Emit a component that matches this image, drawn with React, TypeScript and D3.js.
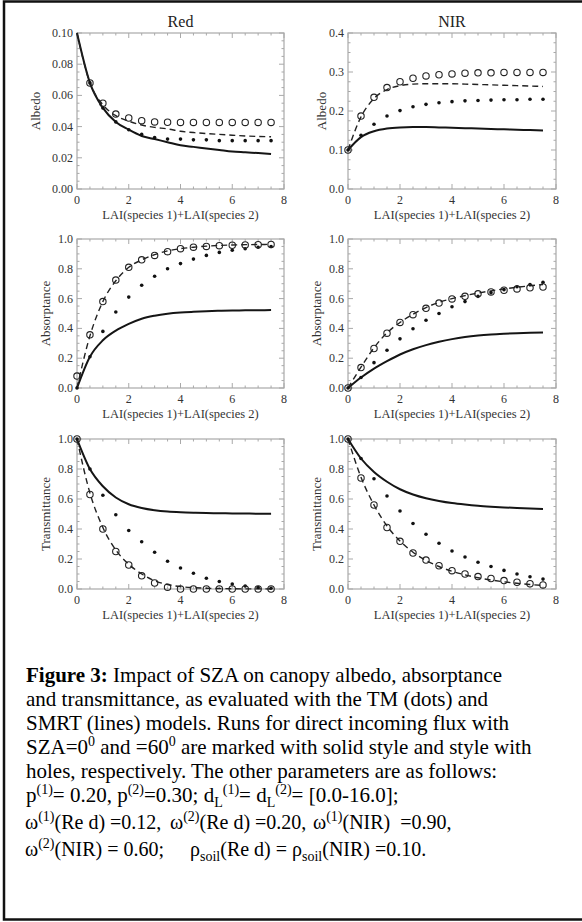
import React, { useEffect, useRef } from "react";
import * as d3 from "d3";

const width = 582;
const height = 922;
const serif = "'Liberation Serif', 'Times New Roman', serif";

// LAI(species 1)+LAI(species 2) at which every run was evaluated
const lai = [0, 0.5, 1, 1.5, 2, 2.5, 3, 3.5, 4, 4.5, 5, 5.5, 6, 6.5, 7, 7.5];

// solid = SMRT SZA=0, dashed = SMRT SZA=60, dots = TM SZA=0, circles = TM SZA=60
const redAlbedoSolid = [0.1, 0.068, 0.052, 0.043, 0.038, 0.034, 0.032, 0.03, 0.028, 0.027, 0.026, 0.025, 0.024, 0.0235, 0.023, 0.0225];
const redAlbedoDashed = [0.1, 0.068, 0.054, 0.047, 0.0435, 0.041, 0.0395, 0.0385, 0.037, 0.0362, 0.0355, 0.035, 0.0345, 0.034, 0.0337, 0.0335];
const redAlbedoDots = [null, 0.068, 0.052, 0.043, 0.038, 0.035, 0.033, 0.032, 0.032, 0.0315, 0.0315, 0.031, 0.031, 0.031, 0.031, 0.031];
const redAlbedoCircles = [null, 0.068, 0.055, 0.048, 0.0455, 0.0438, 0.043, 0.0428, 0.0427, 0.0427, 0.0427, 0.0427, 0.0427, 0.0427, 0.0427, 0.0427];

const nirAlbedoSolid = [0.1, 0.133, 0.148, 0.155, 0.158, 0.159, 0.159, 0.158, 0.157, 0.156, 0.155, 0.154, 0.153, 0.152, 0.151, 0.15];
const nirAlbedoDashed = [0.1, 0.185, 0.232, 0.255, 0.265, 0.269, 0.27, 0.27, 0.27, 0.269, 0.268, 0.267, 0.266, 0.265, 0.264, 0.263];
const nirAlbedoDots = [0.1, 0.138, 0.166, 0.187, 0.201, 0.211, 0.217, 0.221, 0.224, 0.226, 0.227, 0.228, 0.229, 0.229, 0.23, 0.23];
const nirAlbedoCircles = [0.1, 0.187, 0.235, 0.26, 0.275, 0.284, 0.29, 0.293, 0.295, 0.297, 0.298, 0.298, 0.299, 0.299, 0.299, 0.299];

const redAbsSolid = [0, 0.21, 0.32, 0.385, 0.43, 0.465, 0.485, 0.498, 0.506, 0.511, 0.515, 0.518, 0.52, 0.521, 0.522, 0.523];
const redAbsDashed = [0, 0.35, 0.58, 0.72, 0.81, 0.86, 0.895, 0.92, 0.935, 0.945, 0.952, 0.957, 0.96, 0.962, 0.963, 0.964];
const redAbsDots = [0, 0.21, 0.38, 0.51, 0.61, 0.69, 0.75, 0.8, 0.835, 0.865, 0.89, 0.91, 0.925, 0.935, 0.945, 0.95];
const redAbsCircles = [0.08, 0.357, 0.58, 0.724, 0.81, 0.86, 0.89, 0.915, 0.935, 0.945, 0.95, 0.955, 0.958, 0.96, 0.962, 0.963];

const nirAbsSolid = [0, 0.07, 0.13, 0.18, 0.225, 0.26, 0.288, 0.31, 0.328, 0.342, 0.352, 0.359, 0.364, 0.368, 0.371, 0.373];
const nirAbsDashed = [0, 0.14, 0.27, 0.37, 0.44, 0.495, 0.54, 0.575, 0.6, 0.62, 0.637, 0.652, 0.665, 0.676, 0.686, 0.695];
const nirAbsDots = [0, 0.07, 0.17, 0.253, 0.33, 0.398, 0.455, 0.5, 0.545, 0.58, 0.615, 0.64, 0.66, 0.68, 0.695, 0.71];
const nirAbsCircles = [0, 0.137, 0.265, 0.368, 0.44, 0.492, 0.535, 0.57, 0.598, 0.615, 0.632, 0.645, 0.656, 0.665, 0.672, 0.678];

const redTransSolid = [1.0, 0.8, 0.685, 0.61, 0.565, 0.54, 0.525, 0.516, 0.511, 0.508, 0.506, 0.505, 0.504, 0.503, 0.502, 0.502];
const redTransDashed = [1.0, 0.64, 0.41, 0.26, 0.165, 0.1, 0.055, 0.03, 0.016, 0.009, 0.005, 0.003, 0.002, 0.001, 0.001, 0.0];
const redTransDots = [1.0, 0.8, 0.625, 0.495, 0.39, 0.315, 0.245, 0.185, 0.14, 0.105, 0.072, 0.05, 0.033, 0.02, 0.01, 0.005];
const redTransCircles = [1.0, 0.63, 0.4, 0.25, 0.16, 0.088, 0.04, 0.012, 0.0, 0.0, 0.0, 0.0, 0.0, 0.0, 0.0, 0.0];

const nirTransSolid = [1.0, 0.87, 0.78, 0.715, 0.665, 0.63, 0.605, 0.587, 0.573, 0.563, 0.555, 0.549, 0.544, 0.54, 0.537, 0.534];
const nirTransDashed = [1.0, 0.745, 0.56, 0.42, 0.32, 0.245, 0.19, 0.15, 0.118, 0.094, 0.075, 0.06, 0.048, 0.038, 0.03, 0.024];
const nirTransDots = [1.0, 0.87, 0.735, 0.62, 0.52, 0.437, 0.365, 0.305, 0.253, 0.213, 0.178, 0.15, 0.124, 0.1, 0.082, 0.066];
const nirTransCircles = [1.0, 0.74, 0.56, 0.41, 0.318, 0.24, 0.193, 0.155, 0.122, 0.1, 0.083, 0.07, 0.056, 0.045, 0.035, 0.027];

const xTicks = [0, 2, 4, 6, 8];
const albedoRedTicks = [0, 0.02, 0.04, 0.06, 0.08, 0.1];
const albedoNirTicks = [0, 0.1, 0.2, 0.3, 0.4];
const unitTicks = [0, 0.2, 0.4, 0.6, 0.8, 1.0];

const panels = [
  { col: 0, row: 0, title: "Red", ylabel: "Albedo", ticks: albedoRedTicks, fmt: ".2f", ylx: 35, series: [redAlbedoSolid, redAlbedoDashed, redAlbedoDots, redAlbedoCircles] },
  { col: 1, row: 0, title: "NIR", ylabel: "Albedo", ticks: albedoNirTicks, fmt: ".1f", ylx: 321, series: [nirAlbedoSolid, nirAlbedoDashed, nirAlbedoDots, nirAlbedoCircles] },
  { col: 0, row: 1, title: "", ylabel: "Absorptance", ticks: unitTicks, fmt: ".1f", ylx: 45, series: [redAbsSolid, redAbsDashed, redAbsDots, redAbsCircles] },
  { col: 1, row: 1, title: "", ylabel: "Absorptance", ticks: unitTicks, fmt: ".1f", ylx: 316, series: [nirAbsSolid, nirAbsDashed, nirAbsDots, nirAbsCircles] },
  { col: 0, row: 2, title: "", ylabel: "Transmittance", ticks: unitTicks, fmt: ".1f", ylx: 45, series: [redTransSolid, redTransDashed, redTransDots, redTransCircles] },
  { col: 1, row: 2, title: "", ylabel: "Transmittance", ticks: unitTicks, fmt: ".1f", ylx: 316, series: [nirTransSolid, nirTransDashed, nirTransDots, nirTransCircles] },
];

const colRange = [[77, 284], [348, 556]];
const rowRange = [[189, 33], [388, 239], [589, 439]];

type Seg = { t: string; k?: string; x?: number };
const captionLines: Seg[][] = [
  [{ t: "Figure 3:", k: "b" }, { t: " Impact of SZA on canopy albedo, absorptance" }],
  [{ t: "and transmittance, as evaluated with the TM (dots) and" }],
  [{ t: "SMRT (lines) models. Runs for direct incoming flux with" }],
  [{ t: "SZA=0" }, { t: "0", k: "sup" }, { t: " and =60" }, { t: "0", k: "sup" }, { t: " are marked with solid style and style with" }],
  [{ t: "holes, respectively. The other parameters are as follows:" }],
  [{ t: "p" }, { t: "(1)", k: "sup" }, { t: "= 0.20, p" }, { t: "(2)", k: "sup" }, { t: "=0.30; d" }, { t: "L", k: "sub" }, { t: "(1)", k: "sup" }, { t: "= d" }, { t: "L", k: "sub" }, { t: "(2)", k: "sup" }, { t: "= [0.0-16.0];" }],
  [{ t: "\u03c9" }, { t: "(1)", k: "sup" }, { t: "(Re d) =0.12," }, { t: "\u03c9", x: 170 }, { t: "(2)", k: "sup" }, { t: "(Re d) =0.20," }, { t: "\u03c9", x: 313 }, { t: "(1)", k: "sup" }, { t: "(NIR)  =0.90," }],
  [{ t: "\u03c9" }, { t: "(2)", k: "sup" }, { t: "(NIR) = 0.60;" }, { t: "\u03c1", x: 190 }, { t: "soil", k: "sub" }, { t: "(Re d) = " }, { t: "\u03c1" }, { t: "soil", k: "sub" }, { t: "(NIR) =0.10." }],
];
const captionX = [26, 26, 26, 26, 26, 26, 25, 25];
const captionY = [682, 706, 730, 754, 778, 802, 829, 856];
const captionSize = [21, 21, 21, 21, 21, 21, 20, 20];

function App() {
  const ref = useRef<SVGSVGElement>(null);

  useEffect(() => {
    const svg = d3.select(ref.current);
    svg.selectAll("*").remove();

    // outer frame
    svg.append("rect").attr("x", 4).attr("y", 1.5).attr("width", 640).attr("height", 918)
      .attr("fill", "white").attr("stroke", "#111").attr("stroke-width", 2.5);

    panels.forEach((p) => {
      const [x0, x1] = colRange[p.col];
      const [y0, y1] = rowRange[p.row];
      const yMax = p.ticks[p.ticks.length - 1];
      const x = d3.scaleLinear().domain([0, 8]).range([x0, x1]);
      const y = d3.scaleLinear().domain([0, yMax]).range([y0, y1]);
      const g = svg.append("g");
      const fmt = d3.format(p.fmt);

      g.append("rect").attr("x", x0).attr("y", y1).attr("width", x1 - x0).attr("height", y0 - y1)
        .attr("fill", "none").attr("stroke", "#a9a9a9").attr("stroke-width", 1.2);

      // ticks on all four sides, pointing inward
      const xStep = (xTicks[1] - xTicks[0]) / 4;
      const yStep = (p.ticks[1] - p.ticks[0]) / 4;
      const xMinor = d3.range(0, 8 + 1e-9, xStep);
      const yMinor = d3.range(0, yMax + 1e-9, yStep);
      const tk = g.append("g").attr("stroke", "#a9a9a9").attr("stroke-width", 1);
      xMinor.forEach((v, i) => {
        const len = i % 4 === 0 ? 5 : 2.5;
        tk.append("line").attr("x1", x(v)).attr("x2", x(v)).attr("y1", y0).attr("y2", y0 - len);
        tk.append("line").attr("x1", x(v)).attr("x2", x(v)).attr("y1", y1).attr("y2", y1 + len);
      });
      yMinor.forEach((v, i) => {
        const len = i % 4 === 0 ? 5 : 2.5;
        tk.append("line").attr("y1", y(v)).attr("y2", y(v)).attr("x1", x0).attr("x2", x0 + len);
        tk.append("line").attr("y1", y(v)).attr("y2", y(v)).attr("x1", x1).attr("x2", x1 - len);
      });

      g.selectAll(".xt").data(xTicks).enter().append("text")
        .attr("x", (d) => x(d)).attr("y", y0 + 15).attr("text-anchor", "middle")
        .attr("font-family", serif).attr("font-size", 12).attr("fill", "#333").text((d) => d);
      g.selectAll(".yt").data(p.ticks).enter().append("text")
        .attr("x", x0 - 4).attr("y", (d) => y(d) + 4).attr("text-anchor", "end")
        .attr("font-family", serif).attr("font-size", 12).attr("fill", "#333").text((d) => fmt(d));

      g.append("text").attr("x", (x0 + x1) / 2).attr("y", y0 + 30).attr("text-anchor", "middle")
        .attr("font-family", serif).attr("font-size", 12.5).attr("fill", "#333")
        .text("LAI(species 1)+LAI(species 2)");
      g.append("text").attr("transform", `translate(${p.ylx},${(y0 + y1) / 2}) rotate(-90)`)
        .attr("dy", "0.35em").attr("text-anchor", "middle")
        .attr("font-family", serif).attr("font-size", 13).attr("fill", "#333").text(p.ylabel);
      if (p.title) {
        g.append("text").attr("x", (x0 + x1) / 2).attr("y", 27).attr("text-anchor", "middle")
          .attr("font-family", serif).attr("font-size", 16).attr("fill", "#222").text(p.title);
      }

      const [solid, dashed, dots, circles] = p.series;
      const line = d3.line<number | null>()
        .defined((d) => d != null)
        .x((_, i) => x(lai[i]))
        .y((d) => y(d as number))
        .curve(d3.curveMonotoneX);

      g.append("path").attr("d", line(solid)).attr("fill", "none")
        .attr("stroke", "#151515").attr("stroke-width", 2);
      g.append("path").attr("d", line(dashed)).attr("fill", "none")
        .attr("stroke", "#222").attr("stroke-width", 1.4).attr("stroke-dasharray", "6,4");

      const pts = (arr: (number | null)[]) =>
        arr.map((v, i) => ({ x: lai[i], v })).filter((d) => d.v != null);

      g.selectAll(".dot").data(pts(dots)).enter().append("circle")
        .attr("cx", (d) => x(d.x)).attr("cy", (d) => y(d.v as number)).attr("r", 1.8)
        .attr("fill", "#111");
      g.selectAll(".hole").data(pts(circles)).enter().append("circle")
        .attr("cx", (d) => x(d.x)).attr("cy", (d) => y(d.v as number)).attr("r", 3.2)
        .attr("fill", "none").attr("stroke", "#222").attr("stroke-width", 1.1);
    });

    // caption
    captionLines.forEach((segs, i) => {
      const text = svg.append("text").attr("x", captionX[i]).attr("y", captionY[i])
        .attr("font-family", serif).attr("font-size", captionSize[i]).attr("fill", "#000")
        .style("white-space", "pre");
      let prev = 0;
      segs.forEach((s) => {
        const off = s.k === "sup" ? -8 : s.k === "sub" ? 5 : 0;
        const ts = text.append("tspan").attr("dy", off - prev).text(s.t);
        if (s.x != null) ts.attr("x", s.x);
        if (s.k === "b") ts.attr("font-weight", "bold");
        if (s.k === "sup" || s.k === "sub") ts.attr("font-size", 14);
        prev = off;
      });
    });
  }, []);

  return (
    <svg
      ref={ref}
      width={width}
      height={height}
      style={{ position: "absolute", left: 0, top: 0, background: "white" }}
    ></svg>
  );
}

export default App;
